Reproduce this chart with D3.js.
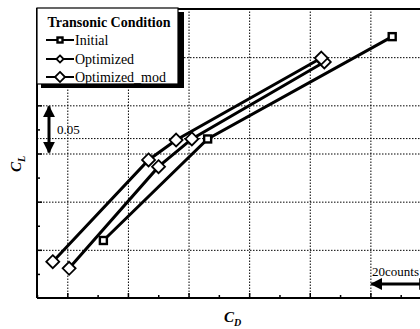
<!DOCTYPE html>
<html>
<head>
<style>
  body { margin: 0; background: #fff; }
  svg { display: block; }
  .grid line { stroke: #000; stroke-width: 1; stroke-dasharray: 1.5,1.5; }
  .grid path { display: none; }
  .ax path { display: none; }
  .ax line { stroke: #000; stroke-width: 1.5; }
</style>
</head>
<body>
<div id="chart"></div>
<script src="https://d3js.org/d3.v7.min.js"></script>
<script>
// CD vs CL, transonic condition
const initialCD = [0.01319, 0.01663, 0.02272];
const initialCL = [0.3597, 0.4651, 0.5713];

const optCD = [0.01206, 0.01501, 0.01611, 0.02048];
const optCL = [0.3308, 0.4363, 0.4651, 0.5450];

const modCD = [0.01152, 0.01468, 0.01559, 0.02038];
const modCL = [0.3377, 0.4433, 0.4640, 0.5491];

const seriesNames = ['Initial', 'Optimized', 'Optimized_mod'];
const gridCD = [0.012, 0.014, 0.016, 0.018, 0.020, 0.022];
const minorCD = [0.011, 0.013, 0.015, 0.017, 0.019, 0.021, 0.023];
const gridCL = [0.35, 0.40, 0.45, 0.50, 0.55, 0.466];
const minorCL = [0.325, 0.375, 0.425, 0.475, 0.525, 0.575];

const W = 420, H = 329;
const pL = 37, pT = 9, pB = 298, pR = 431;
const FONT = "'Liberation Serif', 'Times New Roman', 'DejaVu Serif', serif";

const svg = d3.select('#chart').append('svg')
  .attr('width', W)
  .attr('height', H)
  .attr('font-family', FONT);

const x = d3.scaleLinear().domain([0.011, 0.024]).range([pL, pR]);
const y = d3.scaleLinear().domain([0.30, 0.60]).range([pB, pT]);

// grid
svg.append('g').attr('class', 'grid')
  .attr('transform', `translate(0,${pB})`)
  .call(d3.axisBottom(x).tickValues(gridCD).tickSize(-(pB - pT)).tickFormat(''));
svg.append('g').attr('class', 'grid')
  .attr('transform', `translate(${pL},0)`)
  .call(d3.axisLeft(y).tickValues(gridCL).tickSize(-(pR - pL)).tickFormat(''));

// ticks (inside)
svg.append('g').attr('class', 'ax')
  .attr('transform', `translate(0,${pB})`)
  .call(d3.axisBottom(x).tickValues(gridCD).tickSize(-5).tickFormat(''));
svg.append('g').attr('class', 'ax')
  .attr('transform', `translate(0,${pB})`)
  .call(d3.axisBottom(x).tickValues(minorCD).tickSize(-3).tickFormat(''));
svg.append('g').attr('class', 'ax')
  .attr('transform', `translate(${pL},0)`)
  .call(d3.axisLeft(y).tickValues(gridCL.slice(0, 5)).tickSize(-5).tickFormat(''));
svg.append('g').attr('class', 'ax')
  .attr('transform', `translate(${pL},0)`)
  .call(d3.axisLeft(y).tickValues(minorCL).tickSize(-3).tickFormat(''));

// frame
svg.append('path')
  .attr('d', `M${pL},${pB}V${pT}H${W + 2}M${pL},${pB}H${W + 2}`)
  .attr('fill', 'none').attr('stroke', '#000').attr('stroke-width', 2);

const series = [
  { name: seriesNames[0], cd: initialCD, cl: initialCL, marker: 'square' },
  { name: seriesNames[1], cd: optCD, cl: optCL, marker: 'diamond' },
  { name: seriesNames[2], cd: modCD, cl: modCL, marker: 'diamond' }
];

const line = d3.line().x(d => x(d[0])).y(d => y(d[1]));

function drawMarker(g, type, px, py, s) {
  if (type === 'square') {
    g.append('rect')
      .attr('x', px - s / 2).attr('y', py - s / 2)
      .attr('width', s).attr('height', s)
      .attr('fill', '#fff').attr('stroke', '#000').attr('stroke-width', 2.4);
  } else {
    const r = s * 0.72;
    g.append('path')
      .attr('d', `M${px},${py - r}L${px + r},${py}L${px},${py + r}L${px - r},${py}Z`)
      .attr('fill', '#fff').attr('stroke', '#000').attr('stroke-width', 1.8);
  }
}

series.forEach(s => {
  const pts = s.cd.map((v, i) => [v, s.cl[i]]);
  svg.append('path')
    .attr('d', line(pts))
    .attr('fill', 'none').attr('stroke', '#000').attr('stroke-width', 3);
  const g = svg.append('g');
  pts.forEach(p => drawMarker(g, s.marker, x(p[0]), y(p[1]), s.marker === 'square' ? 7 : 9));
});

// legend
const lg = svg.append('g');
lg.append('rect').attr('x', pL + 4).attr('y', pT + 3).attr('width', 143).attr('height', 76).attr('fill', '#000');
lg.append('rect').attr('x', pL).attr('y', pT - 1).attr('width', 141).attr('height', 76)
  .attr('fill', '#fff').attr('stroke', '#000').attr('stroke-width', 1.2);
lg.append('text').attr('x', pL + 72).attr('y', 27).attr('text-anchor', 'middle')
  .attr('font-size', 14).attr('font-weight', 'bold').text('Transonic Condition');
const rowY = [40, 59, 77];
series.forEach((s, i) => {
  lg.append('line').attr('x1', 46).attr('x2', 74).attr('y1', rowY[i]).attr('y2', rowY[i])
    .attr('stroke', '#000').attr('stroke-width', 2);
  drawMarker(lg, s.marker, 60, rowY[i], s.marker === 'square' ? 5 : (i === 1 ? 5 : 7));
  lg.append('text').attr('x', 75).attr('y', rowY[i] + 4.5)
    .attr('font-size', 14).text(s.name);
});

// 0.05 scale arrow
const arrowX = 49;
svg.append('defs').html(
  '<marker id="ah" viewBox="0 0 10 10" refX="9" refY="5" markerWidth="4" markerHeight="4" orient="auto-start-reverse">' +
  '<path d="M0,0L10,5L0,10Z" fill="#000"/></marker>');
svg.append('line')
  .attr('x1', arrowX).attr('x2', arrowX)
  .attr('y1', y(0.50) + 1).attr('y2', y(0.45) - 1)
  .attr('stroke', '#000').attr('stroke-width', 3)
  .attr('marker-start', 'url(#ah)').attr('marker-end', 'url(#ah)');
svg.append('text').attr('x', 57).attr('y', 134).attr('font-size', 13).text('0.05');

// 20 counts arrow
svg.append('line')
  .attr('x1', x(0.022) + 1).attr('x2', x(0.024) - 1)
  .attr('y1', 284).attr('y2', 284)
  .attr('stroke', '#000').attr('stroke-width', 3)
  .attr('marker-start', 'url(#ah)').attr('marker-end', 'url(#ah)');
svg.append('text').attr('x', 372).attr('y', 276).attr('font-size', 13).text('20counts');

// axis titles
svg.append('text').attr('x', 224).attr('y', 322)
  .attr('font-size', 15).attr('font-weight', 'bold').attr('font-style', 'italic')
  .html('C<tspan font-size="10" dy="4">D</tspan>');
svg.append('text')
  .attr('transform', 'translate(21,172) rotate(-90)')
  .attr('font-size', 15).attr('font-weight', 'bold').attr('font-style', 'italic')
  .html('C<tspan font-size="10" dy="4">L</tspan>');
</script>
</body>
</html>
